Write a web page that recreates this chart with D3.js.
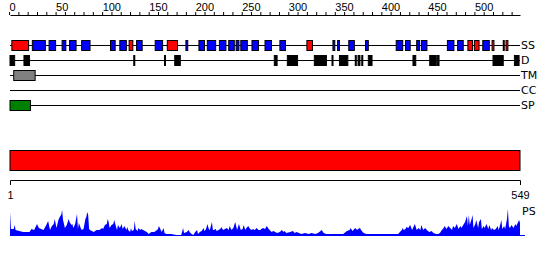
<!DOCTYPE html>
<html>
<head>
<meta charset="utf-8">
<script src="https://cdn.jsdelivr.net/npm/d3@7"></script>
<style>
  body { margin: 0; background: #fff; }
  svg { display: block; font-family: "DejaVu Sans", sans-serif; }
</style>
</head>
<body>
<div id="chart"></div>
<script>
/// Sequence length and track names.
var seqLength = 549;
var trackNames = ["SS", "D", "TM", "CC", "SP"];

/// Secondary structure: helices (red) and strands (blue), residue ranges.
var helixSegments = [[3, 21], [129, 133], [170, 181], [320, 326], [493, 498],
  [500, 505], [519, 521], [531, 532], [534, 536]];
var strandSegments = [[25, 39], [43, 50], [57, 61], [65, 72], [78, 87], [109, 114],
  [119, 126], [137, 143], [157, 165], [190, 192], [204, 210], [213, 222], [226, 233],
  [236, 242], [244, 247], [249, 256], [261, 268], [275, 282], [291, 297], [348, 350],
  [353, 355], [365, 371], [383, 386], [416, 423], [426, 431], [438, 441], [443, 449],
  [471, 478], [482, 488], [509, 516]];
/// Disorder, transmembrane, signal peptide, domain.
var disorderSegments = [[1, 6], [16, 22], [134, 135], [167, 168], [178, 184], [285, 288],
  [299, 310], [328, 341], [347, 348], [355, 364], [372, 373], [375, 377], [379, 380],
  [386, 390], [434, 437], [452, 459], [460, 462], [520, 531], [543, 548]];
var tmSegments = [[5, 28]];
var spSegments = [[1, 23]];
var domainSegments = [[1, 549]];

/// Profile score (PS): [residue, score] read along the sequence.
var psProfile = [[1, 24], [2, 7], [5, 7], [6, 11], [7, 6], [15, 4], [22, 4], [24, 7],
  [27, 6], [30, 12], [32, 8], [37, 6], [40, 11], [42, 15], [44, 6], [46, 10], [48, 12],
  [49, 17], [51, 8], [53, 16], [55, 20], [56, 21], [57, 26], [58, 16], [60, 8], [62, 11],
  [64, 17], [65, 14], [67, 11], [68, 12], [69, 8], [71, 12], [73, 22], [74, 7], [75, 13],
  [77, 8], [78, 6], [80, 7], [82, 17], [83, 19], [84, 24], [85, 21], [86, 7], [87, 6],
  [91, 4], [94, 6], [97, 6], [100, 8], [101, 7], [103, 11], [105, 12], [106, 17],
  [107, 14], [108, 8], [110, 11], [112, 12], [113, 16], [115, 9], [116, 6], [117, 11],
  [119, 8], [121, 12], [122, 7], [124, 10], [126, 6], [127, 9], [128, 6], [130, 4],
  [131, 8], [132, 5], [134, 6], [135, 15], [136, 7], [138, 5], [139, 8], [141, 6],
  [142, 7], [144, 6], [146, 5], [148, 4], [150, 2], [153, 4], [156, 4], [159, 6],
  [160, 7], [161, 10], [163, 6], [164, 4], [166, 8], [167, 3], [169, 2], [174, 2],
  [180, 1], [185, 1], [187, 8], [188, 3], [191, 4], [193, 6], [194, 4], [196, 2],
  [198, 1], [200, 4], [202, 6], [203, 2], [205, 4], [207, 5], [209, 8], [210, 5],
  [211, 6], [212, 8], [213, 12], [215, 6], [216, 7], [218, 14], [219, 6], [220, 6],
  [222, 7], [223, 5], [225, 6], [227, 7], [228, 9], [230, 6], [232, 7], [234, 8],
  [236, 6], [237, 10], [239, 6], [241, 8], [243, 14], [245, 6], [246, 9], [247, 12],
  [249, 6], [251, 7], [252, 11], [254, 6], [255, 8], [257, 10], [259, 7], [261, 6],
  [262, 7], [264, 6], [266, 8], [268, 6], [270, 6], [271, 7], [273, 8], [275, 7],
  [277, 10], [279, 7], [280, 6], [282, 4], [284, 5], [286, 4], [288, 3], [291, 4],
  [293, 6], [295, 4], [296, 5], [298, 3], [302, 4], [305, 5], [307, 3], [309, 4],
  [314, 2], [318, 3], [322, 2], [325, 3], [329, 2], [332, 3], [336, 6], [338, 3],
  [341, 2], [352, 2], [359, 2], [363, 5], [366, 6], [367, 8], [369, 5], [371, 7],
  [372, 8], [374, 6], [375, 7], [377, 8], [379, 5], [381, 3], [384, 2], [395, 2],
  [406, 2], [418, 2], [422, 6], [423, 8], [424, 6], [426, 7], [427, 9], [429, 8],
  [431, 11], [433, 6], [434, 8], [436, 12], [438, 6], [440, 8], [442, 6], [443, 11],
  [445, 6], [447, 8], [449, 6], [450, 5], [452, 4], [454, 5], [456, 3], [459, 2],
  [461, 2], [463, 3], [465, 6], [467, 8], [468, 10], [470, 7], [472, 10], [474, 8],
  [476, 6], [477, 10], [479, 8], [481, 12], [483, 7], [485, 10], [486, 8], [488, 11],
  [490, 14], [492, 20], [493, 10], [494, 21], [495, 11], [497, 17], [498, 21], [499, 8],
  [501, 12], [502, 16], [504, 8], [505, 14], [507, 17], [508, 7], [510, 10], [511, 8],
  [513, 12], [515, 7], [516, 11], [518, 6], [519, 8], [521, 6], [523, 7], [525, 10],
  [526, 6], [528, 12], [529, 16], [530, 7], [532, 10], [533, 7], [535, 17], [536, 27],
  [537, 10], [538, 8], [540, 11], [542, 8], [544, 12], [545, 10], [547, 14], [548, 16],
  [549, 13]];

var width = 550;
var height = 260;

var svg = d3.select("#chart").append("svg")
  .attr("width", width)
  .attr("height", height);

var x = d3.scaleLinear().domain([1, seqLength]).range([10, 520]);
var trackY = d3.scalePoint().domain(trackNames).range([45, 105]);

/// Top ruler.
svg.append("g")
  .attr("transform", "translate(0,15)")
  .call(d3.axisTop(x)
    .tickValues(d3.range(0, seqLength, 10))
    .tickSizeInner(3)
    .tickSizeOuter(0)
    .tickPadding(1)
    .tickFormat(function (d) { return d % 50 === 0 ? d : ""; }))
  .call(function (g) {
    g.selectAll("text").attr("text-anchor", "start").attr("fill", "#000")
      .style("font-size", "11px").attr("font-family", null);
    g.selectAll("line, path").attr("stroke", "#000");
  });

/// Track lines and labels.
var tracks = svg.append("g");
trackNames.forEach(function (name) {
  var y = trackY(name) + 0.5;
  tracks.append("line")
    .attr("x1", x(1)).attr("x2", x(seqLength))
    .attr("y1", y).attr("y2", y)
    .attr("stroke", "#000");
  tracks.append("text")
    .attr("x", x(seqLength) + 1)
    .attr("y", y)
    .attr("dy", "0.35em")
    .style("font-size", "11px")
    .text(name);
});

function drawBoxes(segments, track, fill) {
  tracks.selectAll(null)
    .data(segments)
    .enter()
    .append("rect")
    .attr("x", function (d) { return x(d[0]); })
    .attr("y", trackY(track) - 4.5)
    .attr("width", function (d) { return Math.max(1, x(d[1]) - x(d[0])); })
    .attr("height", 10)
    .attr("fill", fill)
    .attr("stroke", "#000");
}

drawBoxes(helixSegments, "SS", "#ff0000");
drawBoxes(strandSegments, "SS", "#0000ff");
drawBoxes(disorderSegments, "D", "#000");
drawBoxes(tmSegments, "TM", "#808080");
drawBoxes(spSegments, "SP", "#008000");

/// Domain bar.
svg.selectAll(null)
  .data(domainSegments)
  .enter()
  .append("rect")
  .attr("x", function (d) { return x(d[0]); })
  .attr("y", 150.5)
  .attr("width", function (d) { return x(d[1]) - x(d[0]); })
  .attr("height", 20)
  .attr("fill", "#ff0000")
  .attr("stroke", "#000");

/// Bottom ruler with ends only.
svg.append("g")
  .attr("transform", "translate(0,180)")
  .call(d3.axisBottom(x)
    .tickValues([1, seqLength])
    .tickSizeInner(0)
    .tickSizeOuter(5)
    .tickPadding(11))
  .call(function (g) {
    g.selectAll("text").attr("fill", "#000")
      .style("font-size", "11px").attr("font-family", null);
    g.selectAll("line, path").attr("stroke", "#000");
  });

/// PS profile.
var yPS = d3.scaleLinear().domain([0, 30]).range([236, 206]);
var area = d3.area()
  .x(function (d) { return x(d[0]); })
  .y0(yPS(0))
  .y1(function (d) { return yPS(d[1]); });

svg.append("path")
  .datum(psProfile)
  .attr("d", area)
  .attr("fill", "#0000ff");

svg.append("line")
  .attr("x1", x(1)).attr("x2", x(seqLength) + 5)
  .attr("y1", yPS(0) - 0.5).attr("y2", yPS(0) - 0.5)
  .attr("stroke", "#0000ff");

svg.append("text")
  .attr("x", x(seqLength) + 2)
  .attr("y", 215)
  .style("font-size", "11px")
  .text("PS");
</script>
</body>
</html>
